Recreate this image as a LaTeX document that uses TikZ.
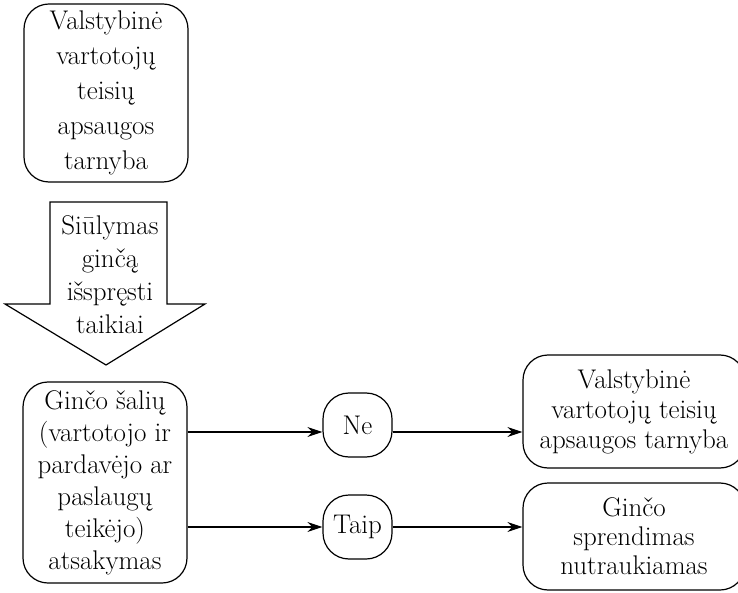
\documentclass[tikz,border=0pt]{standalone}
\usepackage{tikz}
\usetikzlibrary{arrows.meta,calc,positioning}

\begin{document}
\begin{tikzpicture}[x=1pt, y=-1pt,
	box/.style={draw, line width=1.2pt, rounded corners=25pt, align=center, inner sep=0pt},
	pill/.style={draw, line width=1.2pt, rounded corners=26pt, align=center, inner sep=0pt, minimum width=69pt, minimum height=64pt},
	conn/.style={line width=1.2pt, -{Stealth[length=15pt,width=10pt]}}]
	\useasboundingbox (0,0) rectangle (738,593);
% top box and the big arrow
\node[box, minimum width=164pt, minimum height=178pt, font=\fontsize{27}{35}\selectfont] (vvtat) at (106, 93) {Valstybinė\\vartotojų\\teisių\\apsaugos\\tarnyba};
\draw[line width=1.2pt] (50,202) -- (167,202) -- (167,304) -- (205,304) -- (106,365) -- (5,304) -- (50,304) -- cycle;
\node[align=center, inner sep=0pt, font=\fontsize{27}{33}\selectfont] (offer) at (110, 275) {Siūlymas\\ginčą\\išspręsti\\taikiai};
% answer and the two outcomes
\node[box, minimum width=164pt, minimum height=201pt, font=\fontsize{27}{32}\selectfont] (answer) at (105, 482.5) {Ginčo šalių\\(vartotojo ir\\pardavėjo ar\\paslaugų\\teikėjo)\\atsakymas};
\node[pill, font=\fontsize{27}{32}\selectfont] (no) at (357.5, 425) {Ne};
\node[pill, font=\fontsize{27}{32}\selectfont] (yes) at (357.5, 527) {Taip};
\node[box, minimum width=222pt, minimum height=113pt, font=\fontsize{27}{30}\selectfont] (vvtat2) at (634, 411.5) {Valstybinė\\vartotojų teisių\\apsaugos tarnyba};
\node[box, minimum width=222pt, minimum height=107pt, font=\fontsize{27}{29}\selectfont] (stop) at (634, 536.5) {Ginčo\\sprendimas\\nutraukiamas};
\coordinate (noline) at (0, 432);
\draw[conn] (answer.east |- noline) -- (no.west |- noline);
\draw[conn] (no.east |- noline) -- (vvtat2.west |- noline);
\draw[conn] (answer.east |- yes.west) -- (yes.west);
\draw[conn] (yes.east) -- (stop.west |- yes.east);
\end{tikzpicture}
\end{document}
